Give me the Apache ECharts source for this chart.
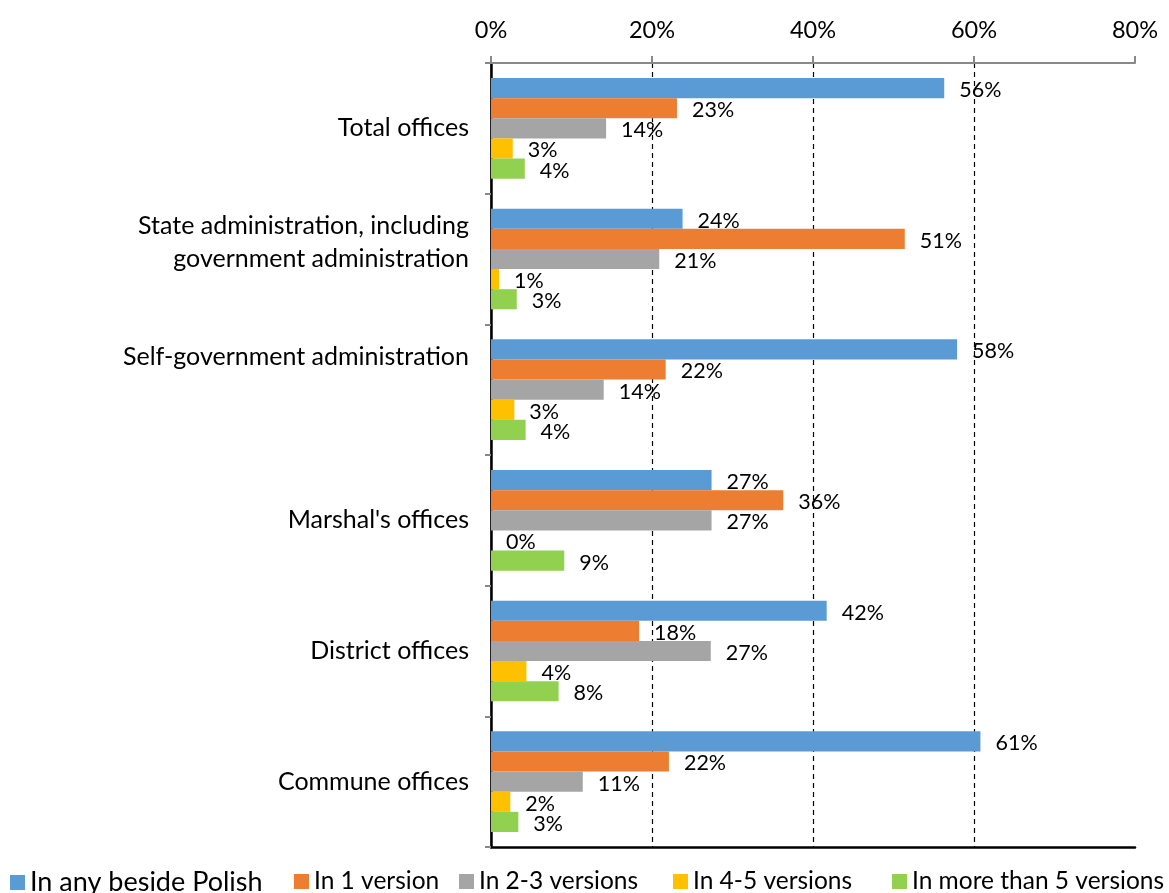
<!DOCTYPE html>
<html>
<head>
<meta charset="utf-8">
<script src="https://cdn.jsdelivr.net/npm/echarts@6/dist/echarts.min.js"></script>
<style>
  html, body { margin: 0; padding: 0; background: #fff; }
  #chart { width: 1169px; height: 893px; }
</style>
</head>
<body>
<div id="chart"></div>
<script>
// trailing blank lines keep the labels higher, like in the original sheet
var categories = ['Total offices', 'State administration, including\ngovernment administration\n', 'Self-government administration\n\n', "Marshal's offices", 'District offices', 'Commune offices'];
var seriesNames = ['In any beside Polish', 'In 1 version', 'In 2-3 versions', 'In 4-5 versions', 'In more than 5 versions'];
var anyBesidePolish = [56.3, 23.8, 57.9, 27.4, 41.7, 60.8];
var oneVersion = [23.1, 51.4, 21.7, 36.3, 18.4, 22.1];
var twoThreeVersions = [14.3, 20.9, 14.0, 27.4, 27.3, 11.4];
var fourFiveVersions = [2.7, 1.0, 2.9, 0, 4.4, 2.4];
var moreThanFive = [4.2, 3.2, 4.3, 9.1, 8.4, 3.4];
var xTicks = [0, 20, 40, 60, 80];

var colors = ['#5B9BD5', '#ED7D31', '#A5A5A5', '#FFC000', '#92D050'];
var allData = [anyBesidePolish, oneVersion, twoThreeVersions, fourFiveVersions, moreThanFive];
var font = 'Lato';

var chart = echarts.init(document.getElementById('chart'));

var legendLeft = [10, 294, 459, 673, 892];
var legends = seriesNames.map(function (n, i) {
  return {
    data: [n],
    left: legendLeft[i],
    top: 869,
    itemWidth: 15,
    itemHeight: 15,
    itemGap: 0,
    icon: 'rect',
    padding: 0,
    selectedMode: false,
    textStyle: { fontFamily: font, fontSize: i === 0 ? 27 : 24.5, color: '#000' }
  };
});

var series = seriesNames.map(function (n, i) {
  return {
    name: n,
    type: 'bar',
    data: allData[i],
    itemStyle: { color: colors[i] },
    barGap: '0%',
    barCategoryGap: '23%',
    label: {
      show: true,
      position: 'right',
      distance: 15,
      offset: [0, 2],
      fontFamily: font,
      fontSize: 21.5,
      color: '#000',
      formatter: function (p) { return Math.round(p.value) + '%'; }
    }
  };
});

var option = {
  animation: false,
  legend: legends,
  grid: { left: 491, right: 34, top: 63, bottom: 46, containLabel: false },
  xAxis: [{
    type: 'value',
    position: 'top',
    min: xTicks[0],
    max: xTicks[xTicks.length - 1],
    interval: 20,
    axisLine: { show: true, lineStyle: { color: '#888', width: 2 } },
    axisTick: { show: true, length: 7, lineStyle: { color: '#888', width: 2 } },
    axisLabel: { formatter: '{value}%', fontFamily: font, fontSize: 23.5, color: '#000', margin: 21 },
    splitLine: { show: true, showMinLine: false, showMaxLine: false, lineStyle: { color: '#000', type: [5, 4], width: 1.2 } }
  }, {
    type: 'value',
    position: 'bottom',
    min: 0, max: 80,
    axisLine: { show: true, lineStyle: { color: '#000', width: 2.5 } },
    axisTick: { show: false },
    axisLabel: { show: false },
    splitLine: { show: false }
  }],
  yAxis: [{
    type: 'category',
    inverse: true,
    data: categories,
    axisLine: { show: true, lineStyle: { color: '#888', width: 2 } },
    axisTick: { show: true, length: 6, lineStyle: { color: '#888', width: 2 } },
    axisLabel: { fontFamily: font, fontSize: 25, color: '#000', margin: 22, lineHeight: 33, align: 'right' }
  }, {
    type: 'category',
    position: 'right',
    inverse: true,
    data: categories,
    axisLine: { show: true, lineStyle: { color: '#000', width: 2.5 } },
    axisTick: { show: false },
    axisLabel: { show: false }
  }],
  series: series
};

chart.setOption(option);
</script>
</body>
</html>
